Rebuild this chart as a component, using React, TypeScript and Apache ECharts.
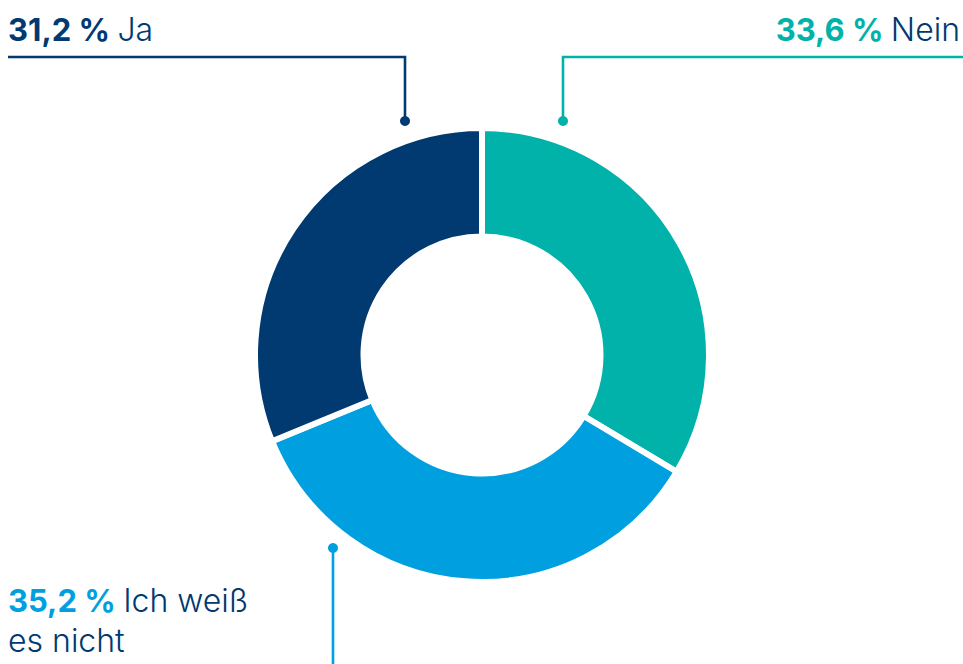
import React, { useEffect, useRef } from "react";
import * as echarts from "echarts";

const categories = ["Nein", "Ich weiß es nicht", "Ja"];
const values = [33.6, 35.2, 31.2];
const colors = ["#00B2A9", "#00A0E0", "#003A70"];
const labelLines = ["Nein", "Ich weiß\nes nicht", "Ja"];

const NAVY = "#003A70";
const FONT = "Inter, 'Noto Sans', sans-serif";

const fmt = (v: number) => v.toFixed(1).replace(".", ",") + " %";

export default function App() {
  const ref = useRef<HTMLDivElement>(null);
  useEffect(() => {
    document.body.style.margin = "0";
    if (!ref.current) return;
    const chart = echarts.init(ref.current, null, { renderer: "svg" });

    const rich = (i: number) => ({
      b: { fontFamily: FONT, fontSize: 31, fontWeight: 700, fill: colors[i], lineHeight: 40 },
      n: { fontFamily: FONT, fontSize: 32, fontWeight: 300, fill: NAVY, lineHeight: 40 },
    });
    const richText = (i: number) => {
      const parts = labelLines[i].split("\n");
      return `{b|${fmt(values[i])} }{n|${parts[0]}}` + parts.slice(1).map((p) => `\n{n|${p}}`).join("");
    };

    const lw = 2.6;
    const dotR = 5;

    chart.setOption({
      animation: false,
      series: [
        {
          type: "pie",
          center: [482, 355],
          radius: [118.5, 227],
          startAngle: 90,
          clockwise: true,
          silent: true,
          label: { show: false },
          labelLine: { show: false },
          itemStyle: { borderColor: "#ffffff", borderWidth: 6 },
          data: categories.map((c, i) => ({
            name: c,
            value: values[i],
            itemStyle: { color: colors[i] },
          })),
        },
      ],
      graphic: [
        // Ja
        {
          type: "polyline",
          shape: { points: [[8, 57], [405, 57], [405, 121]] },
          style: { stroke: colors[2], lineWidth: lw, fill: null },
        },
        { type: "circle", shape: { cx: 405, cy: 121, r: dotR }, style: { fill: colors[2] } },
        {
          type: "text",
          x: 8,
          y: 9,
          style: { text: richText(2), rich: rich(2), align: "left", verticalAlign: "top" },
        },
        // Nein
        {
          type: "polyline",
          shape: { points: [[963, 57], [563, 57], [563, 121]] },
          style: { stroke: colors[0], lineWidth: lw, fill: null },
        },
        { type: "circle", shape: { cx: 563, cy: 121, r: dotR }, style: { fill: colors[0] } },
        {
          type: "text",
          x: 960,
          y: 9,
          style: { text: richText(0), rich: rich(0), align: "right", verticalAlign: "top" },
        },
        // Ich weiß es nicht
        {
          type: "line",
          shape: { x1: 333, y1: 548, x2: 333, y2: 664 },
          style: { stroke: colors[1], lineWidth: lw },
        },
        { type: "circle", shape: { cx: 333, cy: 548, r: dotR }, style: { fill: colors[1] } },
        {
          type: "text",
          x: 8,
          y: 580.5,
          style: { text: richText(1), rich: rich(1), align: "left", verticalAlign: "top" },
        },
      ],
    });
    return () => chart.dispose();
  }, []);
  return <div ref={ref} style={{ width: 963, height: 664 }} />;
}
